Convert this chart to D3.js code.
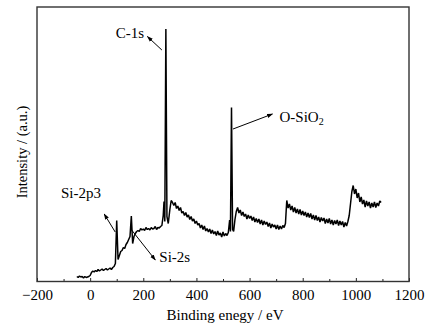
<!DOCTYPE html>
<html>
<head>
<meta charset="utf-8">
<script src="https://cdn.jsdelivr.net/npm/d3@7"></script>
<style>
  html, body { margin: 0; padding: 0; background: #fff; }
  svg { display: block; }
  text { font-family: "Liberation Serif", "Times New Roman", serif; fill: #000; }
</style>
</head>
<body>
<svg id="chart" width="437" height="335"></svg>
<script>
// ---- data ----
const energy = [
  -50,-45,-40,-35,-30,-25,-20,-15,-10,-5,0,5,10,15,20,25,30,35,40,45,50,55,60,65,70,75,80,85,90,95,
  100,105,110,115,120,125,130,135,140,145,150,155,160,165,170,175,180,185,190,195,200,205,210,215,220,
  225,230,235,240,245,250,255,260,265,270,275,278,281,285,289,294,300,305,310,315,320,325,330,335,340,
  345,350,355,360,365,370,375,380,385,390,395,400,405,410,415,420,425,430,435,440,445,450,455,460,465,
  470,475,480,485,490,495,500,505,510,515,520,525,528,532,536,540,545,550,555,560,565,570,575,580,585,
  590,595,600,605,610,615,620,625,630,635,640,645,650,655,660,665,670,675,680,685,690,695,700,705,710,
  715,720,725,730,735,740,745,750,755,760,765,770,775,780,785,790,795,800,805,810,815,820,825,830,835,
  840,845,850,855,860,865,870,875,880,885,890,895,900,905,910,915,920,925,930,935,940,945,950,955,960,
  965,970,975,980,985,990,995,1000,1005,1010,1015,1020,1025,1030,1035,1040,1045,1050,1055,1060,1065,
  1070,1075,1080,1085,1090,1095
];
const intensity = [
  5,4,5.5,4.5,5,3.5,5,4,4.5,5,6,9,10.5,9.5,11,10,12,10.5,11.5,12.5,11,12,13,11.5,12.5,13.5,12,14,15,18,
  61,22,26,30,31,34,33,37,39,42,45,65.5,38,45,48,50,51,50,53,51.5,52.5,51,54,52,53,
  51.5,54,52.5,53,55,52,54,53.5,55,56,66,80,60,252.5,65,58,72,81,79,76,79,73,75.5,71,74,
  68.5,70,66,69,64.5,66.5,62,65,60.5,62.5,58,60.5,56.5,58,53.5,56.5,52,55.5,50.5,53,49.5,52.5,48,51.5,47.5,
  50,46,50.5,46.5,48.5,44.5,49.5,45.5,48,46,49,61.5,50,174,52,50,62,70,74,68.5,71.5,66,69.5,65,67.5,
  62.5,66.5,63,65.5,61,64.5,59.5,63,59,62.5,57.5,61.5,56.5,60.5,57,59.5,55,58.5,53.5,57.5,54.5,56.5,52.5,56.5,52,
  55.5,52.5,56,54,58,81,73.5,77.5,71.5,75.5,69.5,74,68.5,72.5,67.5,72,66.5,70.5,66,69.5,64.5,68.5,64,68,62.5,
  66.5,61.5,66,61,64.5,59.5,64,60.5,63.5,58,62.5,58.5,63,57.5,61.5,56.5,61,57.5,61.5,56,60.5,56.5,60,54.5,59,
  55.5,60,66,78,90,96,87.5,92.5,83.5,88.5,79.5,84.5,77.5,81.5,74.5,80.5,75.5,79.5,73.5,78.5,74.5,
  79.5,74,78.5,75.5,80.5,79
];
const xTicks = [-200, 0, 200, 400, 600, 800, 1000, 1200];
const xMinorTicks = [-100, 100, 300, 500, 700, 900, 1100];
const labels = [
  { text: "C-1s", e: 285 },
  { text: "O-SiO", sub: "2", e: 532 },
  { text: "Si-2p3", e: 100 },
  { text: "Si-2s", e: 155 }
];

// ---- layout ----
const svg = d3.select("#chart");
const L = 37, R = 409, T = 7, B = 281.5;
const x = d3.scaleLinear().domain([-200, 1200]).range([L, R]);
const y = d3.scaleLinear().domain([0, 274.5]).range([B, T]);

// defs: arrowhead
svg.append("defs").append("marker")
  .attr("id", "ah").attr("viewBox", "0 0 10 10").attr("refX", 9).attr("refY", 5)
  .attr("markerWidth", 6).attr("markerHeight", 6).attr("orient", "auto")
  .append("path").attr("d", "M0,1.5 L10,5 L0,8.5 Z").attr("fill", "#000");

// spectrum
const pts = energy.map((e, i) => [e, intensity[i]]);
svg.append("path")
  .datum(pts)
  .attr("fill", "none").attr("stroke", "#000").attr("stroke-width", 1.5)
  .attr("stroke-linejoin", "bevel")
  .attr("d", d3.line().x(d => x(d[0])).y(d => y(d[1])));

// bottom axis (inward ticks)
const ax = d3.axisBottom(x).tickValues(xTicks).tickSize(-3.5).tickPadding(8)
  .tickFormat(d => d < 0 ? "\u2212" + Math.abs(d) : String(d));
const gx = svg.append("g").attr("transform", `translate(0,${B})`).call(ax);
gx.select(".domain").remove();
gx.selectAll(".tick line").attr("stroke", "#222").attr("stroke-width", 1);
gx.selectAll(".tick text").attr("font-size", 15).attr("font-family", "Liberation Serif").attr("fill", "#000");
const gm = svg.append("g").attr("transform", `translate(0,${B})`)
  .call(d3.axisBottom(x).tickValues(xMinorTicks).tickSize(-2.5).tickFormat(""));
gm.select(".domain").remove();
gm.selectAll(".tick line").attr("stroke", "#222");

// frame
svg.append("rect").attr("x", L).attr("y", T).attr("width", R - L).attr("height", B - T)
  .attr("fill", "none").attr("stroke", "#333").attr("stroke-width", 1.4);

// axis titles
svg.append("text").attr("x", (L + R) / 2 + 2).attr("y", 320).attr("text-anchor", "middle")
  .attr("font-size", 15).text("Binding enegy / eV");
svg.append("text").attr("transform", "translate(27,152) rotate(-90)").attr("text-anchor", "middle")
  .attr("font-size", 14.5).text("Intensity / (a.u.)");

// annotations: arrows + labels, anchored to peak energies
function arrow(x1, y1, x2, y2) {
  svg.append("line").attr("x1", x1).attr("y1", y1).attr("x2", x2).attr("y2", y2)
    .attr("stroke", "#000").attr("stroke-width", 1).attr("marker-end", "url(#ah)");
}
const c1 = labels[0], o1 = labels[1], s1 = labels[2], s2 = labels[3];
// C-1s
arrow(x(c1.e) - 4, 50, x(c1.e) - 18.5, 36.5);
svg.append("text").attr("x", x(c1.e) - 50).attr("y", 38).attr("font-size", 15).text(c1.text);
// O-SiO2
arrow(x(o1.e) + 1.5, 129, x(o1.e) + 41, 114);
const ot = svg.append("text").attr("x", x(o1.e) + 48).attr("y", 122).attr("font-size", 15);
ot.append("tspan").text(o1.text);
ot.append("tspan").attr("font-size", 10).attr("dy", 3).text(o1.sub);
// Si-2p3
arrow(x(s1.e) - 1.5, 232, x(s1.e) - 12.5, 214);
svg.append("text").attr("x", 61).attr("y", 198).attr("font-size", 15).text(s1.text);
// Si-2s
arrow(x(s2.e) - 0.5, 229, x(s2.e) + 24, 260);
svg.append("text").attr("x", x(s2.e) + 28).attr("y", 262).attr("font-size", 15).text(s2.text);
</script>
</body>
</html>
